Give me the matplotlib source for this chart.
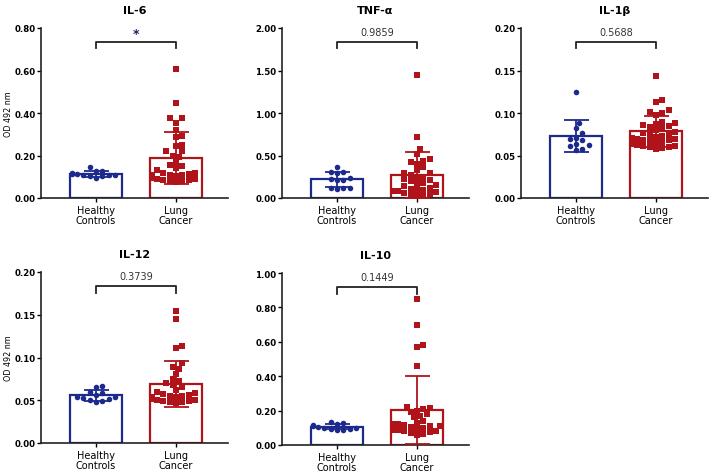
import numpy as np
from matplotlib import pyplot as plt

plt.rcParams['font.family'] = ['DejaVu Sans']

groups = ['Healthy\nControls', 'Lung\nCancer']
blue = '#1c2a8e'
red = '#b0141a'

# panel titles, y limits, p-value labels
titles = ['IL-6', 'TNF-α', 'IL-1β', 'IL-12', 'IL-10']
ylims = [0.8, 2.0, 0.2, 0.2, 1.0]
ysteps = [0.2, 0.5, 0.05, 0.05, 0.2]
pvals = ['*', '0.9859', '0.5688', '0.3739', '0.1449']

# OD 492 nm readings
il6_hc = [0.105, 0.108, 0.110, 0.113, 0.125, 0.128, 0.145, 0.112, 0.118, 0.095, 0.102, 0.107]
il6_lc = [0.605, 0.445, 0.375, 0.375, 0.355, 0.32, 0.29, 0.285, 0.25, 0.245, 0.22, 0.22,
          0.20, 0.195, 0.17, 0.155, 0.15, 0.14, 0.13, 0.12, 0.115, 0.11, 0.11, 0.105,
          0.10, 0.10, 0.095, 0.09, 0.09, 0.085, 0.085, 0.08, 0.08, 0.075, 0.11, 0.105, 0.12]

tnf_hc = [0.37, 0.31, 0.30, 0.31, 0.22, 0.21, 0.21, 0.23, 0.12, 0.11, 0.115, 0.12]
tnf_lc = [1.45, 0.72, 0.58, 0.52, 0.46, 0.44, 0.42, 0.40, 0.36, 0.33, 0.30, 0.29,
          0.27, 0.25, 0.24, 0.22, 0.21, 0.20, 0.18, 0.16, 0.15, 0.14, 0.12, 0.11,
          0.10, 0.09, 0.08, 0.08, 0.07, 0.06, 0.05, 0.04, 0.03, 0.02]

il1b_hc = [0.125, 0.088, 0.082, 0.076, 0.071, 0.069, 0.068, 0.062, 0.061, 0.058, 0.056, 0.064]
il1b_lc = [0.143, 0.115, 0.113, 0.103, 0.101, 0.100, 0.098, 0.090, 0.088, 0.087, 0.086,
           0.085, 0.083, 0.082, 0.080, 0.078, 0.076, 0.075, 0.074, 0.073, 0.072, 0.071,
           0.070, 0.069, 0.068, 0.068, 0.067, 0.066, 0.065, 0.064, 0.063, 0.063, 0.062,
           0.061, 0.061, 0.060, 0.060, 0.059, 0.058]

il12_hc = [0.067, 0.066, 0.060, 0.058, 0.056, 0.054, 0.054, 0.053, 0.052, 0.050, 0.049, 0.048]
il12_lc = [0.154, 0.145, 0.113, 0.111, 0.093, 0.089, 0.087, 0.081, 0.075, 0.073, 0.070,
           0.068, 0.065, 0.062, 0.060, 0.058, 0.057, 0.056, 0.055, 0.055, 0.054, 0.054,
           0.053, 0.052, 0.052, 0.051, 0.050, 0.050, 0.049, 0.049, 0.048, 0.048, 0.047]

il10_hc = [0.135, 0.128, 0.125, 0.115, 0.108, 0.103, 0.100, 0.098, 0.095, 0.093, 0.090, 0.088]
il10_lc = [0.85, 0.70, 0.58, 0.57, 0.46, 0.22, 0.215, 0.21, 0.20, 0.19, 0.18, 0.17,
           0.16, 0.14, 0.13, 0.12, 0.12, 0.115, 0.11, 0.11, 0.105, 0.10, 0.10, 0.095,
           0.09, 0.09, 0.085, 0.08, 0.08, 0.075, 0.07, 0.065, 0.06]

data = [(il6_hc, il6_lc), (tnf_hc, tnf_lc), (il1b_hc, il1b_lc),
        (il12_hc, il12_lc), (il10_hc, il10_lc)]

# axes boxes in pixels: left, top-of-axes, bottom-of-axes
W, H = 709, 477
boxes = [(41, 29, 199), (282, 29, 199), (521, 29, 199),
         (41, 273, 444), (282, 274, 446)]
AX_W = 187
PX_PER_UNIT = 80.0


def swarm(vals, ymax, h_px, d=5.4, maxoff=24):
    """simple deterministic beeswarm, returns x offsets in data units"""
    vals = np.asarray(vals)
    order = np.argsort(vals)
    placed = []
    offs = np.zeros(len(vals))
    cands = [0.0]
    for n in range(1, 30):
        cands += [n * d * 0.6, -n * d * 0.6]
    for i in order:
        y = vals[i] / ymax * h_px
        best = cands[-1]
        for c in cands:
            if abs(c) > maxoff:
                continue
            if all((c - px) ** 2 + (y - py) ** 2 >= d * d for px, py in placed):
                best = c
                break
        best = max(-maxoff, min(maxoff, best))
        placed.append((best, y))
        offs[i] = best
    return offs / PX_PER_UNIT


fig = plt.figure(figsize=(W / 100, H / 100), dpi=100)

for k in range(5):
    left, top, bot = boxes[k]
    h_px = bot - top
    ax = fig.add_axes([left / W, (H - bot) / H, AX_W / W, h_px / H])
    ymax = ylims[k]
    for j, (vals, col, mk) in enumerate(zip(data[k], [blue, red], ['o', 's'])):
        vals = np.asarray(vals)
        m, sd = vals.mean(), vals.std(ddof=1)
        ax.bar(j, m, width=0.65, facecolor='white', edgecolor=col, linewidth=1.6, zorder=2)
        xs = j + swarm(vals, ymax, h_px)
        ax.scatter(xs, vals, s=16, marker=mk, color=col, linewidths=0, zorder=3)
        ax.errorbar(j, m, yerr=sd, color=col, capsize=9, elinewidth=1.3,
                    capthick=1.3, zorder=4)
    # significance bracket
    yb = ymax * 0.92
    ax.plot([0, 0, 1, 1], [yb - ymax * 0.04, yb, yb, yb - ymax * 0.04],
            color='#222222', linewidth=1.3, clip_on=False)
    if pvals[k] == '*':
        ax.text(0.5, yb + ymax * 0.01, '*', ha='center', va='bottom', fontsize=9,
                color='#1a1f6e', fontweight='bold')
    else:
        ax.text(0.5, yb + ymax * 0.025, pvals[k], ha='center', va='bottom',
                fontsize=7, color='#333333')

    ax.set_xlim(-55 / PX_PER_UNIT, -55 / PX_PER_UNIT + AX_W / PX_PER_UNIT)
    ax.set_ylim(0, ymax)
    ticks = np.arange(0, ymax + 1e-9, ysteps[k])
    ax.set_yticks(ticks)
    ax.set_yticklabels([f'{v:.2f}' for v in ticks], fontweight='bold', fontsize=6.2)
    ax.set_xticks([0, 1])
    ax.set_xticklabels(groups, fontsize=7, linespacing=1.0)
    ax.tick_params(axis='y', length=3, width=1, pad=1)
    ax.tick_params(axis='x', length=3, width=1, pad=2)
    for s in ['top', 'right']:
        ax.spines[s].set_visible(False)
    for s in ['left', 'bottom']:
        ax.spines[s].set_linewidth(1.2)
        ax.spines[s].set_color('#222222')
    ax.set_title(titles[k], fontsize=8, fontweight='bold', pad=11)
    if left < 100:
        ax.set_ylabel('OD 492 nm', fontsize=5.8)
        ax.yaxis.set_label_coords(-0.15, 0.5)

fig.savefig('out.png', dpi=100)
